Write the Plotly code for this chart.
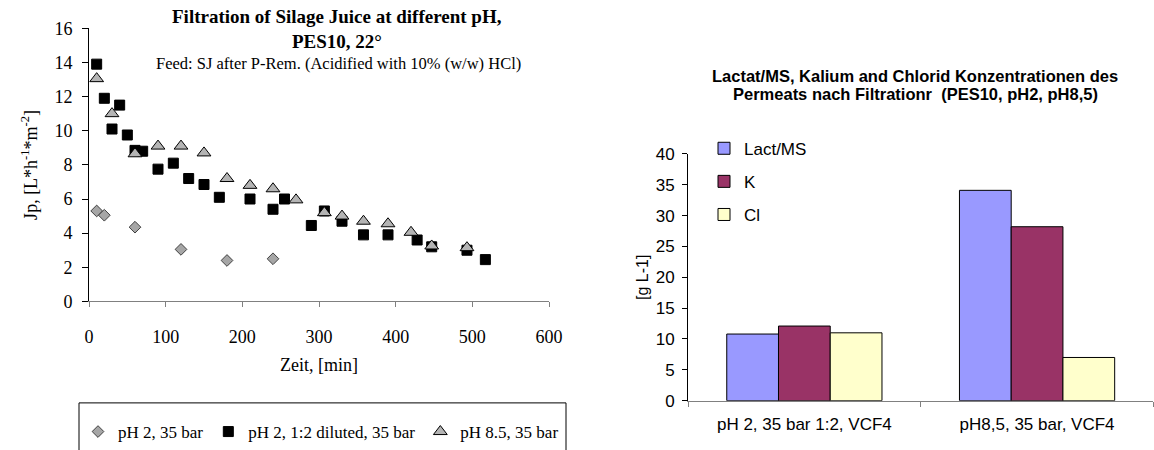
import plotly.graph_objects as go

W, H = 1154, 450

# ---- Left panel: permeate flux over time ----
t_ph2 = [10, 20, 60, 120, 180, 240]
jp_ph2 = [5.3, 5.05, 4.35, 3.05, 2.4, 2.5]

t_ph2_dil = [10, 20, 30, 40, 50, 60, 70, 90, 110, 130, 150, 170, 210, 240,
             255, 290, 307, 330, 358, 390, 428, 447, 493, 517]
jp_ph2_dil = [13.9, 11.9, 10.1, 11.5, 9.75, 8.85, 8.8, 7.75, 8.1, 7.2, 6.85, 6.1,
              6.0, 5.4, 6.0, 4.45, 5.3, 4.7, 3.9, 3.9, 3.6, 3.2, 3.0, 2.45]

t_ph85 = [10, 30, 60, 90, 120, 150, 180, 210, 240, 270, 307, 330, 358, 390,
          420, 447, 493]
jp_ph85 = [13.05, 11.0, 8.65, 9.1, 9.1, 8.7, 7.2, 6.8, 6.6, 5.95, 5.2, 5.0, 4.7,
           4.55, 4.05, 3.25, 3.15]

# ---- Right panel: permeate concentrations ----
bar_categories = ["pH 2, 35 bar 1:2, VCF4", "pH8,5, 35 bar, VCF4"]
lact_ms = [10.8, 34.1]
kalium = [12.1, 28.2]
chlorid = [11.0, 7.0]

SERIF = "Liberation Serif"
SANS = "Liberation Sans"


def px_x(p):
    return p / W


def px_y(p):
    return 1 - p / H


def label(text, x, y, family, size):
    return dict(text=text, x=px_x(x), y=px_y(y), xref="paper", yref="paper",
                xanchor="center", yanchor="middle", showarrow=False,
                font=dict(family=family, size=size, color="#000000"))


fig = go.Figure()

fig.add_trace(go.Scatter(
    x=t_ph2, y=jp_ph2, mode="markers", name="pH 2, 35 bar",
    marker=dict(symbol="diamond", size=9, color="#A6A6A6",
                line=dict(color="#404040", width=1)),
    xaxis="x", yaxis="y", legend="legend"))
fig.add_trace(go.Scatter(
    x=t_ph2_dil, y=jp_ph2_dil, mode="markers", name="pH 2, 1:2 diluted, 35 bar",
    marker=dict(symbol="square", size=10, color="#000000",
                line=dict(color="#000000", width=1)),
    xaxis="x", yaxis="y", legend="legend"))
fig.add_trace(go.Scatter(
    x=t_ph85, y=jp_ph85, mode="markers", name="pH 8.5, 35 bar",
    marker=dict(symbol="triangle-up", size=12, color="#B4B4B4",
                line=dict(color="#000000", width=1)),
    xaxis="x", yaxis="y", legend="legend"))

for name, vals, col in [("Lact/MS", lact_ms, "#9999FF"),
                        ("K", kalium, "#993366"),
                        ("Cl", chlorid, "#FFFFCC")]:
    fig.add_trace(go.Bar(
        x=bar_categories, y=vals, name=name, marker_color=col,
        marker_line=dict(color="#000000", width=1),
        xaxis="x2", yaxis="y2", legend="legend2", legendgroup=name))

fig.update_layout(
    width=W, height=H,
    margin=dict(l=0, r=0, t=0, b=0),
    paper_bgcolor="white", plot_bgcolor="white",
    barmode="group", bargap=0.333, bargroupgap=0,
    xaxis=dict(
        domain=[px_x(89), px_x(549)], range=[0, 600], dtick=100,
        showgrid=False, zeroline=False, showline=True, linecolor="#808080",
        ticks="outside", ticklen=5, tickcolor="#808080",
        ticklabelstandoff=14,
        tickfont=dict(family=SERIF, size=18, color="#000000"),
        title=dict(text="Zeit, [min]", standoff=12,
                   font=dict(family=SERIF, size=18, color="#000000")),
        anchor="y", automargin=False),
    yaxis=dict(
        domain=[px_y(309), px_y(29)], range=[0, 16], dtick=2,
        showgrid=False, zeroline=False, showline=True, linecolor="#000000",
        ticks="outside", ticklen=6, tickcolor="#000000",
        ticklabelstandoff=6,
        tickfont=dict(family=SERIF, size=18, color="#000000"),
        title=dict(text="Jp, [L*h<sup>-1</sup>*m<sup>-2</sup>]", standoff=12,
                   font=dict(family=SERIF, size=18, color="#000000")),
        anchor="x", automargin=False),
    xaxis2=dict(
        domain=[px_x(688), 0.9995], type="category",
        showgrid=False, zeroline=False, showline=True, linecolor="#808080",
        ticks="outside", ticklen=5, tickcolor="#808080", tickson="boundaries",
        ticklabelstandoff=8,
        tickfont=dict(family=SANS, size=17, color="#000000"),
        anchor="y2", automargin=False),
    yaxis2=dict(
        domain=[px_y(410.7), px_y(157.8)], range=[0, 40], dtick=5,
        showgrid=False, zeroline=False, showline=True, linecolor="#000000",
        ticks="outside", ticklen=5, tickcolor="#000000",
        ticklabelstandoff=4,
        tickfont=dict(family=SANS, size=17, color="#000000"),
        title=dict(text="[g L-1]", standoff=3,
                   font=dict(family=SANS, size=16, color="#000000")),
        anchor="x2", automargin=False),
    legend=dict(
        orientation="h", x=px_x(78), xanchor="left",
        y=px_y(443), yanchor="middle",
        bgcolor="rgba(0,0,0,0)", borderwidth=0,
        font=dict(family=SERIF, size=17, color="#000000"),
        itemwidth=30, tracegroupgap=0),
    legend2=dict(
        orientation="v", x=px_x(704), xanchor="left",
        y=px_y(134), yanchor="top",
        bgcolor="rgba(0,0,0,0)", borderwidth=0,
        traceorder="grouped", tracegroupgap=8,
        font=dict(family=SANS, size=17, color="#000000")),
    shapes=[dict(type="rect", xref="paper", yref="paper",
                 x0=px_x(79), x1=px_x(566), y0=px_y(470), y1=px_y(413),
                 line=dict(color="#000000", width=1), fillcolor="rgba(0,0,0,0)")],
    annotations=[
        label("<b>Filtration of Silage Juice at different pH,</b>", 337, 17, SERIF, 19),
        label("<b>PES10, 22°</b>", 337, 43, SERIF, 19),
        label("Feed: SJ after P-Rem. (Acidified with 10% (w/w) HCl)", 338, 65, SERIF, 16.5),
        label("<b>Lactat/MS, Kalium and Chlorid Konzentrationen des</b>", 915, 78, SANS, 16.5),
        label("<b>Permeats nach Filtrationr  (PES10, pH2, pH8,5)</b>", 915, 96, SANS, 16.5),
    ],
)

fig.write_html("out.html")
